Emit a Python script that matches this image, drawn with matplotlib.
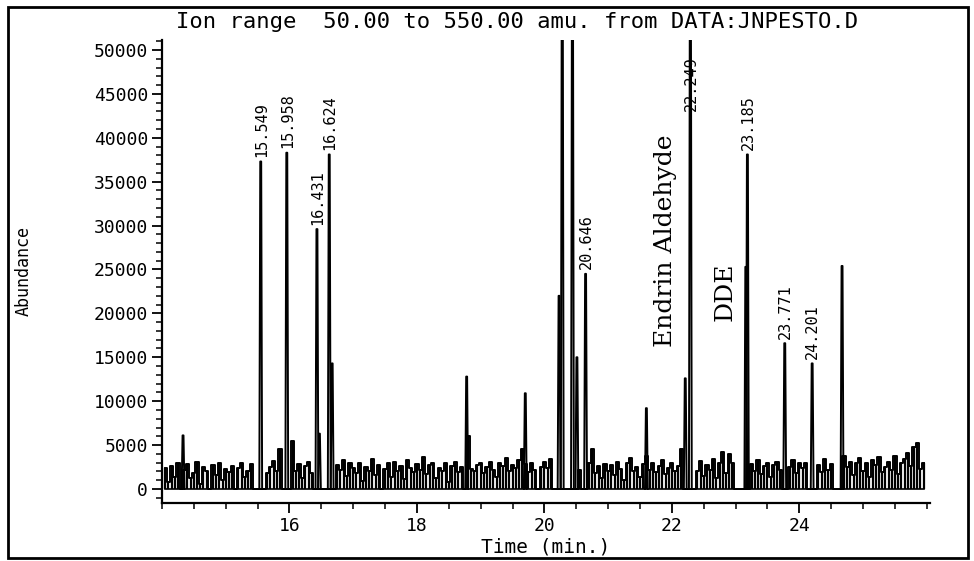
import matplotlib
matplotlib.use('Agg')
import matplotlib.pyplot as plt
from matplotlib.patches import Rectangle
from matplotlib.ticker import MultipleLocator
import numpy as np

# scan grid of the baseline trace (min)
scan_start = 14.05
scan_step = 0.05

# baseline noise (abundance / 100), one value per scan
noise = [
    24, 8, 26, 14, 30, 0, 22, 28, 12, 18, 31, 6, 25, 20, 0, 27, 16, 29, 10, 23,
    19, 26, 0, 24, 30, 14, 21, 28, 0, 0, 0, 0, 18, 25, 32, 20, 45, 0, 0, 0,
    55, 20, 28, 12, 26, 31, 18, 0, 0, 0, 0, 0, 0, 0, 27, 22, 33, 15, 29, 24,
    18, 30, 9, 25, 21, 34, 16, 27, 0, 23, 29, 14, 31, 20, 26, 11, 33, 24, 19, 28,
    22, 36, 17, 27, 30, 13, 24, 21, 29, 8, 26, 31, 19, 25, 0, 60, 23, 20, 27, 30,
    18, 25, 31, 22, 14, 29, 26, 35, 20, 27, 24, 33, 46, 28, 19, 30, 22, 0, 25, 31,
    24, 34, 0, 0, 0, 0, 0, 0, 0, 0, 22, 0, 0, 30, 45, 18, 26, 12, 28, 20,
    27, 16, 31, 23, 10, 29, 35, 21, 25, 14, 28, 38, 22, 30, 19, 26, 33, 17, 24, 29,
    20, 26, 46, 0, 0, 0, 0, 21, 32, 15, 27, 22, 34, 12, 29, 42, 18, 40, 30, 0,
    0, 0, 0, 0, 28, 21, 33, 17, 26, 30, 14, 27, 31, 22, 0, 0, 25, 33, 18, 29,
    24, 30, 0, 0, 0, 27, 19, 34, 22, 28, 0, 0, 0, 38, 25, 31, 16, 29, 35, 21,
    30, 14, 33, 27, 36, 19, 25, 31, 22, 38, 17, 29, 34, 41, 26, 48, 52, 23, 30,
]

# peaks (retention time in min, apex abundance); apexes above 51000 are off scale
peak_times = [14.33, 15.549, 15.958, 16.431, 16.47, 16.624, 16.67, 18.78, 19.70,
              20.23, 20.28, 20.44, 20.51, 20.646, 21.60, 22.21, 22.29, 23.16,
              23.185, 23.771, 24.201, 24.67]
peak_heights = [6100, 37300, 38300, 29600, 6300, 38100, 14300, 12800, 10900,
                22000, 60000, 60000, 15000, 24500, 9200, 12600, 60000, 25300,
                38100, 16600, 14300, 25400]

# printed retention-time labels
label_times = [15.549, 15.958, 16.431, 16.624, 20.646, 22.29, 23.185, 23.771, 24.201]
label_heights = [37300, 38300, 29600, 38100, 24500, 42500, 38100, 16600, 14300]
label_texts = ['15.549', '15.958', '16.431', '16.624', '20.646', '22.249',
               '23.185', '23.771', '24.201']

# compound names written on the chart
compound_names = ['Endrin Aldehyde', 'DDE']
compound_x = [21.90, 22.84]
compound_y = [28300, 22500]

y_ticks = [0, 5000, 10000, 15000, 20000, 25000, 30000, 35000, 40000, 45000, 50000]
x_ticks = [16, 18, 20, 22, 24]

mono = 'DejaVu Sans Mono'

fig = plt.figure(figsize=(9.74, 5.61), dpi=100)
ax = fig.add_axes([162 / 974, 1 - 503 / 561, (930 - 162) / 974, (503 - 40) / 561])

t_noise = scan_start + scan_step * np.arange(len(noise))
y_noise = np.array(noise) * 100

# baseline trace
ax.vlines(t_noise, 0, y_noise, color='black', lw=1.6)
ax.plot(t_noise, y_noise, drawstyle='steps-mid', color='black', lw=1.4)
ax.plot([t_noise[0], t_noise[-1]], [0, 0], color='black', lw=1.2)

# peaks
w = 0.022
for t, h in zip(peak_times, peak_heights):
    ax.plot([t - w, t - w / 3, t + w / 3, t + w], [0, h, h, 0], color='black', lw=1.4)

for t, h, s in zip(label_times, label_heights, label_texts):
    ax.text(t + 0.01, h + 500, s, rotation=90, ha='center', va='bottom',
            fontsize=11, family=mono)

for s, x, y in zip(compound_names, compound_x, compound_y):
    ax.text(x, y, s, rotation=90, ha='center', va='center',
            fontsize=18, family='DejaVu Serif')

ax.set_xlim(14.0, 26.05)
ax.set_ylim(-1600, 51140)

ax.spines['top'].set_visible(False)
ax.spines['right'].set_visible(False)
ax.spines['left'].set_linewidth(1.6)
ax.spines['bottom'].set_linewidth(1.6)

ax.set_yticks(y_ticks)
ax.set_yticklabels([str(v) for v in y_ticks], family=mono, fontsize=13)
ax.yaxis.set_minor_locator(MultipleLocator(1000))
ax.set_xticks(x_ticks)
ax.set_xticklabels([str(v) for v in x_ticks], family=mono, fontsize=13)
ax.xaxis.set_minor_locator(MultipleLocator(0.5))
ax.tick_params(axis='both', which='major', length=7, width=1.3, direction='out', pad=3)
ax.tick_params(axis='both', which='minor', length=4, width=1.1, direction='out')

ax.set_xlabel('Time (min.)', family=mono, fontsize=14, labelpad=2)
ax.set_ylabel('Abundance', family=mono, fontsize=12)
ax.yaxis.set_label_coords(-0.168, 0.5)

fig.text(517 / 974, 1 - 22 / 561, 'Ion range  50.00 to 550.00 amu. from DATA:JNPESTO.D',
         ha='center', va='center', family=mono, fontsize=16)

fig.patches.append(Rectangle((0.008, 0.006), 0.986, 0.982, transform=fig.transFigure,
                             fill=False, edgecolor='black', lw=2))

fig.savefig('out.png', dpi=100)
